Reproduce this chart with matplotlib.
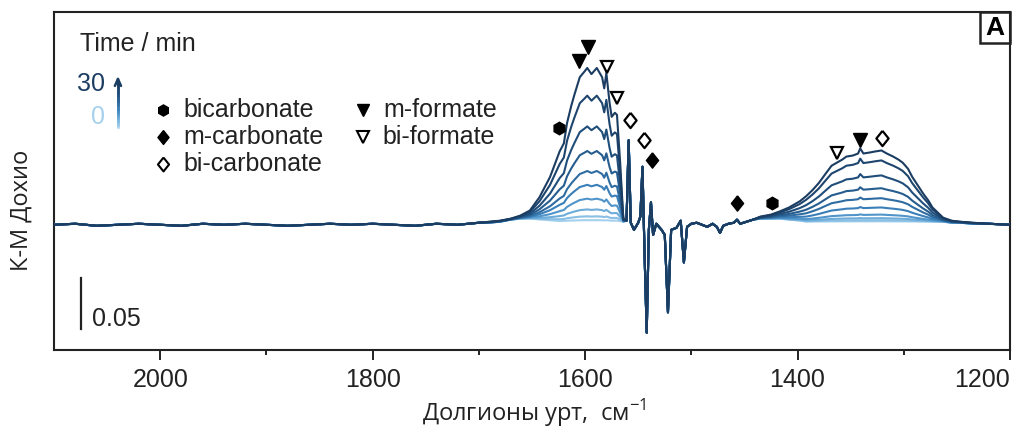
import matplotlib
matplotlib.use("Agg")
import matplotlib.pyplot as plt
import numpy as np
from matplotlib.colors import LinearSegmentedColormap
from matplotlib.collections import LineCollection
from matplotlib.patches import Rectangle

plt.rcParams["font.family"] = ["Liberation Sans", "DejaVu Sans"]

# --- spectrum (K-M units, baseline = 0) ---
# flat region 2100-1700
wn_flat = [2100, 2080, 2060, 2040, 2020, 2000, 1980, 1960, 1940, 1920, 1900,
           1880, 1860, 1840, 1820, 1800, 1780, 1760, 1740, 1720, 1700]
flat = [0.000, 0.001, -0.001, 0.000, 0.001, 0.000, -0.001, 0.001, 0.000, 0.001, 0.000,
        -0.001, 0.000, 0.001, 0.000, 0.001, 0.000, -0.001, 0.001, 0.000, 0.002]

# formate / carbonate band ~1600
wn_hi = [1690, 1680, 1670, 1661, 1652, 1643, 1633, 1624, 1620, 1617, 1613, 1610, 1605,
         1601, 1598, 1594, 1589, 1584, 1582, 1580, 1577, 1575, 1572, 1570, 1567, 1564]
hi_base = [0.002, 0.003, 0.005, 0.006, 0.006, 0.005, 0.004, 0.003, 0.003, 0.003, 0.003, 0.003, 0.003,
           0.003, 0.003, 0.003, 0.003, 0.003, 0.003, 0.003, 0.003, 0.003, 0.003, 0.003, 0.003, 0.003]
hi_band = [0.001, 0.001, 0.001, 0.003, 0.008, 0.022, 0.043, 0.069, 0.077, 0.097, 0.114, 0.125, 0.142,
           0.147, 0.151, 0.145, 0.151, 0.142, 0.131, 0.146, 0.117, 0.103, 0.107, 0.105, 0.058, 0.003]

# sharp features 1561-1442 (common to all spectra)
wn_sharp = [1561, 1559, 1557, 1554, 1550, 1548, 1546, 1544, 1542, 1540, 1538, 1536, 1533, 1528,
            1525, 1522, 1519, 1514, 1510, 1507, 1504, 1500, 1495, 1490, 1485, 1480, 1476, 1473,
            1470, 1465, 1460, 1457, 1454, 1448, 1442]
sharp = [0.004, 0.083, 0.002, -0.005, 0.002, 0.008, 0.057, -0.030, -0.106, -0.005, 0.022, -0.010,
         0.001, -0.005, -0.010, -0.086, -0.005, -0.003, 0.004, -0.037, -0.002, 0.001, 0.002, 0.000,
         -0.002, 0.001, -0.002, -0.008, -0.001, 0.001, 0.002, 0.005, 0.001, 0.003, 0.005]

# band ~1330
wn_lo = [1435, 1425, 1417, 1408, 1398, 1392, 1386, 1380, 1373, 1368, 1363, 1358, 1354, 1348, 1343,
         1341, 1338, 1332, 1327, 1321, 1316, 1310, 1305, 1301, 1296, 1292, 1287, 1282, 1277, 1273,
         1268, 1263, 1255, 1247, 1235, 1220, 1200]
lo_base = [0.006, 0.006, 0.006, 0.005, 0.004, 0.003, 0.003, 0.003, 0.003, 0.003, 0.003, 0.003, 0.003,
           0.003, 0.003, 0.003, 0.003, 0.003, 0.003, 0.003, 0.003, 0.003, 0.003, 0.003, 0.003, 0.003,
           0.003, 0.003, 0.003, 0.003, 0.003, 0.003, 0.002, 0.002, 0.001, 0.001, 0.000]
lo_band = [0.002, 0.004, 0.007, 0.012, 0.019, 0.025, 0.031, 0.038, 0.048, 0.055, 0.058, 0.061, 0.064,
           0.065, 0.067, 0.072, 0.067, 0.068, 0.069, 0.070, 0.067, 0.064, 0.061, 0.058, 0.052, 0.044,
           0.036, 0.028, 0.021, 0.014, 0.009, 0.004, 0.002, 0.001, 0.001, 0.000, 0.000]

# relative band growth, 0 min -> 30 min
scale_hi = [0.01, 0.035, 0.08, 0.15, 0.24, 0.33, 0.46, 0.62, 0.82, 1.0]
scale_lo = [0.005, 0.02, 0.05, 0.10, 0.20, 0.33, 0.47, 0.65, 0.86, 1.0]

# peak assignment markers (wavenumber, K-M)
bicarb_wn, bicarb_y = [1624.7, 1424.2], [0.095, 0.0216]
mcarb_wn, mcarb_y = [1537.2, 1457.2], [0.064, 0.0216]
bicarbd_wn, bicarbd_y = [1557.9, 1544.7, 1320.7], [0.103, 0.083, 0.0853]
mform_wn, mform_y = [1597.4, 1605.9, 1341.4], [0.1745, 0.161, 0.0833]
biform_wn, biform_y = [1579.5, 1570.1, 1363.1], [0.155, 0.1245, 0.0706]

cmap = LinearSegmentedColormap.from_list(
    "t", ["#a6d1ee", "#72b0dc", "#3f86c0", "#2a6599", "#1f4c78", "#1c3d62"])

# slightly wide diamond like in the figure
diamond = [(0, 1), (0.8, 0), (0, -1), (-0.8, 0), (0, 1)]

W, H = 1014, 428
fig = plt.figure(figsize=(W / 100, H / 100), dpi=100)
ax = fig.add_axes([54 / W, 1 - 350 / H, (1010 - 54) / W, (350 - 12) / H])

wn = np.array(wn_flat + wn_hi + wn_sharp + wn_lo)
n = len(scale_hi)
for i in range(n):
    y = np.concatenate([
        np.array(flat),
        np.array(hi_base) + scale_hi[i] * np.array(hi_band),
        np.array(sharp),
        np.array(lo_base) + scale_lo[i] * np.array(lo_band),
    ])
    ax.plot(wn, y, color=cmap(i / (n - 1)), lw=1.5, solid_joinstyle="round", zorder=2 + i)

ax.set_xlim(2100, 1200)
ax.set_ylim(-0.123, 0.209)
ax.set_yticks([])
ax.set_xticks([2000, 1800, 1600, 1400, 1200])
ax.set_xticks([1900, 1700, 1500, 1300], minor=True)
ax.tick_params(axis="x", which="major", direction="out", length=7, width=1.4,
               labelsize=18, pad=6, colors="#222222")
ax.tick_params(axis="x", which="minor", direction="out", length=3.5, width=1.4, colors="#222222")
ax.get_xticklabels()[-1].set_horizontalalignment("right")
for s in ax.spines.values():
    s.set_linewidth(1.5)
    s.set_color("#222222")

# markers on the spectra
mk = dict(ls="none", zorder=20)
ax.plot(bicarb_wn, bicarb_y, marker="h", ms=9, color="black", **mk)
ax.plot(mcarb_wn, mcarb_y, marker=diamond, ms=11, color="black", **mk)
ax.plot(bicarbd_wn, bicarbd_y, marker=diamond, ms=11, mfc="white", mec="black", mew=1.6, **mk)
ax.plot(mform_wn, mform_y, marker="v", ms=10, color="black", **mk)
ax.plot(biform_wn, biform_y, marker="v", ms=9, mfc="white", mec="black", mew=1.6, **mk)

# legend drawn by hand
fs = 18
ax.text(2075.5, 0.178, "Time / min", fontsize=fs, ha="left", va="center", color="#222222")
ax.text(2052, 0.138, "30", fontsize=fs, ha="right", va="center", color=cmap(1.0))
ax.text(2052, 0.106, "0", fontsize=fs, ha="right", va="center", color=cmap(0.0))
ay = np.linspace(0.096, 0.140, 30)
segs = [[(2039.8, ay[k]), (2039.8, ay[k + 1])] for k in range(len(ay) - 1)]
ax.add_collection(LineCollection(segs, colors=[cmap(k / (len(segs) - 1)) for k in range(len(segs))],
                                 linewidths=1.8, capstyle="projecting", zorder=20))
ax.annotate("", xy=(2039.8, 0.149), xytext=(2039.8, 0.136),
            arrowprops=dict(arrowstyle="->,head_length=0.5,head_width=0.22",
                            color=cmap(1.0), lw=1.8))

rows = [0.1127, 0.0863, 0.0598]
ax.plot(1997.4, rows[0], marker="h", ms=8, color="black", **mk)
ax.plot(1997.4, rows[1], marker=diamond, ms=10, color="black", **mk)
ax.plot(1997.4, rows[2], marker=diamond, ms=10, mfc="white", mec="black", mew=1.5, **mk)
ax.plot(1809.2, rows[0], marker="v", ms=9, color="black", **mk)
ax.plot(1809.2, rows[1], marker="v", ms=8, mfc="white", mec="black", mew=1.5, **mk)
for lbl, x, y in [("bicarbonate", 1978.6, rows[0]), ("m-carbonate", 1978.6, rows[1]),
                  ("bi-carbonate", 1978.6, rows[2]), ("m-formate", 1790.4, rows[0]),
                  ("bi-formate", 1790.4, rows[1])]:
    ax.text(x, y, lbl, fontsize=fs, ha="left", va="center", color="#222222")

# scale bar
ax.plot([2074.6, 2074.6], [-0.052, -0.102], color="#222222", lw=1.6)
ax.text(2064.2, -0.093, "0.05", fontsize=fs, ha="left", va="center", color="#222222")

# panel label
ax.add_patch(Rectangle((0.9686, 0.908), 0.0314, 0.092, transform=ax.transAxes,
                       fill=False, lw=1.8, ec="#222222", clip_on=False))
ax.text(0.9843, 0.954, "A", transform=ax.transAxes, fontsize=19, fontweight="bold",
        ha="center", va="center", color="black")

# axis titles
fig.text(534 / W, 1 - 413 / H, "Долгионы урт,  см$^{\\mathregular{-1}}$", fontsize=17,
         ha="center", va="center", family=["Open Sans", "DejaVu Sans"], color="#222222")
fig.text(22 / W, 1 - 210 / H, "К-М Дохио", fontsize=17, rotation=90,
         ha="center", va="center", family=["Open Sans", "DejaVu Sans"], color="#222222")

fig.savefig("out.png", dpi=100)
